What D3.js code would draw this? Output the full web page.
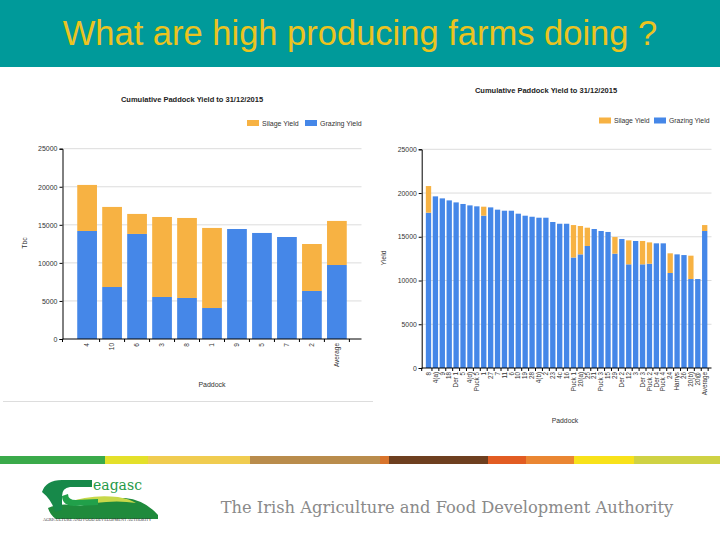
<!DOCTYPE html>
<html><head><meta charset="utf-8">
<script src="https://cdn.jsdelivr.net/npm/d3@7"></script>
<style>body{margin:0;background:#fff}svg{display:block}</style>
</head><body>
<svg id="c" width="720" height="540"></svg>
<script>
const slideTitle = "What are high producing farms doing ?";
const chartTitle = "Cumulative Paddock Yield to 31/12/2015";
const seriesNames = ["Silage Yield", "Grazing Yield"];
const yTicks = [0, 5000, 10000, 15000, 20000, 25000];

const leftCategories = ["4","10","6","3","8","1","9","5","7","2","Average"];
const leftGrazing = [14190, 6830, 13800, 5520, 5390, 4070, 14450, 13930, 13400, 6310, 9720];
const leftSilage  = [6050, 10520, 2630, 10510, 10510, 10520, 0, 0, 0, 6170, 5790];

const rightCategories = ["8","4(a)","9","18","Der 1","5","4(d)","Puck 5","1","27","7","11","6","10","19","28","4(b)","2","23","4c","16","Puck 1","20(a)","25","21","Puck 3","15","29","Der 2","12","3","Der 3","Puck 2","Der 4","Puck 4","24","Harrys","26","20(b)","20@","Average"];
const rightGrazing = [17750,19620,19390,19160,18930,18750,18590,18480,17410,18360,18100,17980,17980,17640,17410,17290,17180,17180,16690,16490,16490,12630,12990,13950,15890,15660,15550,13070,14750,11850,14520,11850,11920,14250,14250,10860,12990,12910,10170,10170,15660];
const rightSilage  = [3050,0,0,0,0,0,0,0,1030,0,0,0,0,0,0,0,0,0,0,0,0,3710,3240,2090,0,0,0,1900,0,2740,0,2670,2440,0,0,2250,0,0,2670,0,680];

const footerText = "The Irish Agriculture and Food Development Authority";
const stripeColors = ["#3aaa4a","#e4e02a","#f0cc50","#b98c4c","#d8742c","#6e3f1f","#e25c22","#ea8632","#f8e21a","#cfd244"];
const stripeStops  = [0,105,148,250,380,389,488,526,574,634,720];

const COL_SIL = "#f7b243", COL_GRZ = "#4587e8";
const svg = d3.select("#c");
const FONT = "Liberation Sans, Arial, sans-serif";

svg.append("rect").attr("width",720).attr("height",540).attr("fill","#fff");
svg.append("rect").attr("width",720).attr("height",67).attr("fill","#009a9a");
svg.append("text").attr("x",360).attr("y",45).attr("text-anchor","middle")
  .attr("font-family",FONT).attr("font-size",34.5).attr("fill","#ecc320").text(slideTitle);

function drawChart(o) {
  const g = svg.append("g");
  const x = d3.scaleBand().domain(o.cats).range([o.xl, o.xr]).paddingInner(o.pi).paddingOuter(o.po);
  const y = d3.scaleLinear().domain([0, 25000]).range([o.y0, o.y1]);
  g.selectAll(".grid").data(yTicks.filter(d => d > 0)).join("line")
    .attr("x1", o.xl).attr("x2", o.xr).attr("y1", d => y(d)).attr("y2", d => y(d))
    .attr("stroke", "#dcdcdc").attr("stroke-width", 1);
  const data = o.cats.map((c, i) => ({c, g: o.grazing[i], s: o.silage[i]}));
  g.selectAll(".bg").data(data).join("rect")
    .attr("x", d => x(d.c)).attr("width", x.bandwidth())
    .attr("y", d => y(d.g)).attr("height", d => y(0) - y(d.g)).attr("fill", COL_GRZ);
  g.selectAll(".bs").data(data.filter(d => d.s > 0)).join("rect")
    .attr("x", d => x(d.c)).attr("width", x.bandwidth())
    .attr("y", d => y(d.g + d.s)).attr("height", d => y(d.g) - y(d.g + d.s)).attr("fill", COL_SIL);
  const ya = d3.axisLeft(y).tickValues(yTicks).tickSize(3).tickPadding(2).tickFormat(d3.format("d"));
  const yg = g.append("g").attr("transform", `translate(${o.xl},0)`).call(ya);
  yg.select(".domain").attr("stroke", "#000");
  yg.selectAll(".tick line").attr("stroke", "#000");
  yg.selectAll("text").attr("font-family", FONT).attr("font-size", o.fs).attr("fill", "#333");
  g.append("line").attr("x1", o.xl).attr("x2", o.xr).attr("y1", y(0)).attr("y2", y(0)).attr("stroke", "#000");
  const bounds = [o.xl].concat(o.cats.map(c => x(c) + x.bandwidth() + x.step() * x.paddingInner() / 2));
  g.selectAll(".xt").data(bounds).join("line")
    .attr("x1", d => d).attr("x2", d => d).attr("y1", y(0)).attr("y2", y(0) + 3).attr("stroke", "#000");
  g.selectAll(".xl").data(o.cats).join("text")
    .attr("transform", d => `translate(${x(d) + x.bandwidth() / 2},${y(0) + 4}) rotate(-90)`)
    .attr("dy", "0.35em").attr("text-anchor", "end")
    .attr("font-family", FONT).attr("font-size", o.xfs).attr("fill", "#333").text(d => d);
  g.append("text").attr("x", o.tx).attr("y", o.ty).attr("text-anchor", "middle")
    .attr("font-family", FONT).attr("font-size", 7.5).attr("font-weight", "bold").attr("fill", "#222").text(chartTitle);
  g.append("text").attr("transform", `translate(${o.ylx},${o.yly}) rotate(-90)`).attr("text-anchor", "middle")
    .attr("font-family", FONT).attr("font-size", o.fs).attr("fill", "#333").text(o.yLabel);
  g.append("text").attr("x", o.xlx).attr("y", o.xly).attr("text-anchor", "middle")
    .attr("font-family", FONT).attr("font-size", o.fs).attr("fill", "#333").text("Paddock");
  const lg = g.append("g").attr("transform", `translate(${o.lx},${o.ly})`);
  const cols = [COL_SIL, COL_GRZ];
  seriesNames.forEach((n, i) => {
    const ox = i === 0 ? 0 : o.lgap;
    lg.append("rect").attr("x", ox).attr("y", -3.5).attr("width", 12).attr("height", 6).attr("fill", cols[i]);
    lg.append("text").attr("x", ox + 15).attr("y", 0).attr("dy", "0.35em")
      .attr("font-family", FONT).attr("font-size", o.fs).attr("fill", "#333").text(n);
  });
}

drawChart({cats: leftCategories, grazing: leftGrazing, silage: leftSilage,
  xl: 62.5, xr: 361.5, y0: 339, y1: 148.7, pi: 0.21, po: 0.59, fs: 7, xfs: 6.5,
  tx: 192, ty: 102, ylx: 27, yly: 243, yLabel: "Tbc", xlx: 212, xly: 387,
  lx: 247, ly: 123.5, lgap: 58});

drawChart({cats: rightCategories, grazing: rightGrazing, silage: rightSilage,
  xl: 421.7, xr: 711.5, y0: 368, y1: 149.3, pi: 0.23, po: 0.6, fs: 6.8, xfs: 6.3,
  tx: 546, ty: 93, ylx: 386, yly: 258, yLabel: "Yield", xlx: 565, xly: 423,
  lx: 599, ly: 121, lgap: 55});

svg.append("line").attr("x1", 3).attr("x2", 373).attr("y1", 401.5).attr("y2", 401.5).attr("stroke", "#ddd");

svg.selectAll(".stripe").data(stripeColors).join("rect")
  .attr("x", (d, i) => stripeStops[i]).attr("width", (d, i) => stripeStops[i + 1] - stripeStops[i])
  .attr("y", 456).attr("height", 8).attr("fill", d => d);

const logo = svg.append("g");
logo.append("path").attr("d", "M48,508 Q60,502 80,506 Q100,500 125,498 Q145,500 158,515 L158,519 L56,519 Q50,515 48,508 Z").attr("fill", "#1f8a3c");
logo.append("path").attr("d", "M66,503 Q90,494 118,497 Q130,499 136,503 Q118,500 95,503 Q80,506 66,503 Z").attr("fill", "#c8d84a");
logo.append("path").attr("d", "M42,492 Q46,480 62,480 L92,480 L92,487 L70,487 Q62,488 62,496 L62,510 L55,512 Q52,500 42,492 Z").attr("fill", "#17894a");
logo.append("path").attr("d", "M62,496 Q62,506 75,506 L98,505 L98,499 L76,500 Q68,500 68,494 Z").attr("fill", "#21a04a");
logo.append("text").attr("x", 93).attr("y", 490).attr("font-family", "DejaVu Serif, serif").attr("font-size", 14)
  .attr("fill", "#1f9a48").text("eagasc");
logo.append("text").attr("x", 43).attr("y", 521).attr("font-family", "Liberation Serif, serif").attr("font-size", 4.2)
  .attr("fill", "#333").text("AGRICULTURE AND FOOD DEVELOPMENT AUTHORITY");

svg.append("text").attr("x", 447).attr("y", 513).attr("text-anchor", "middle")
  .attr("font-family", "DejaVu Serif, serif").attr("font-size", 16.3).attr("fill", "#8a8a8a").text(footerText);
</script>
</body></html>
